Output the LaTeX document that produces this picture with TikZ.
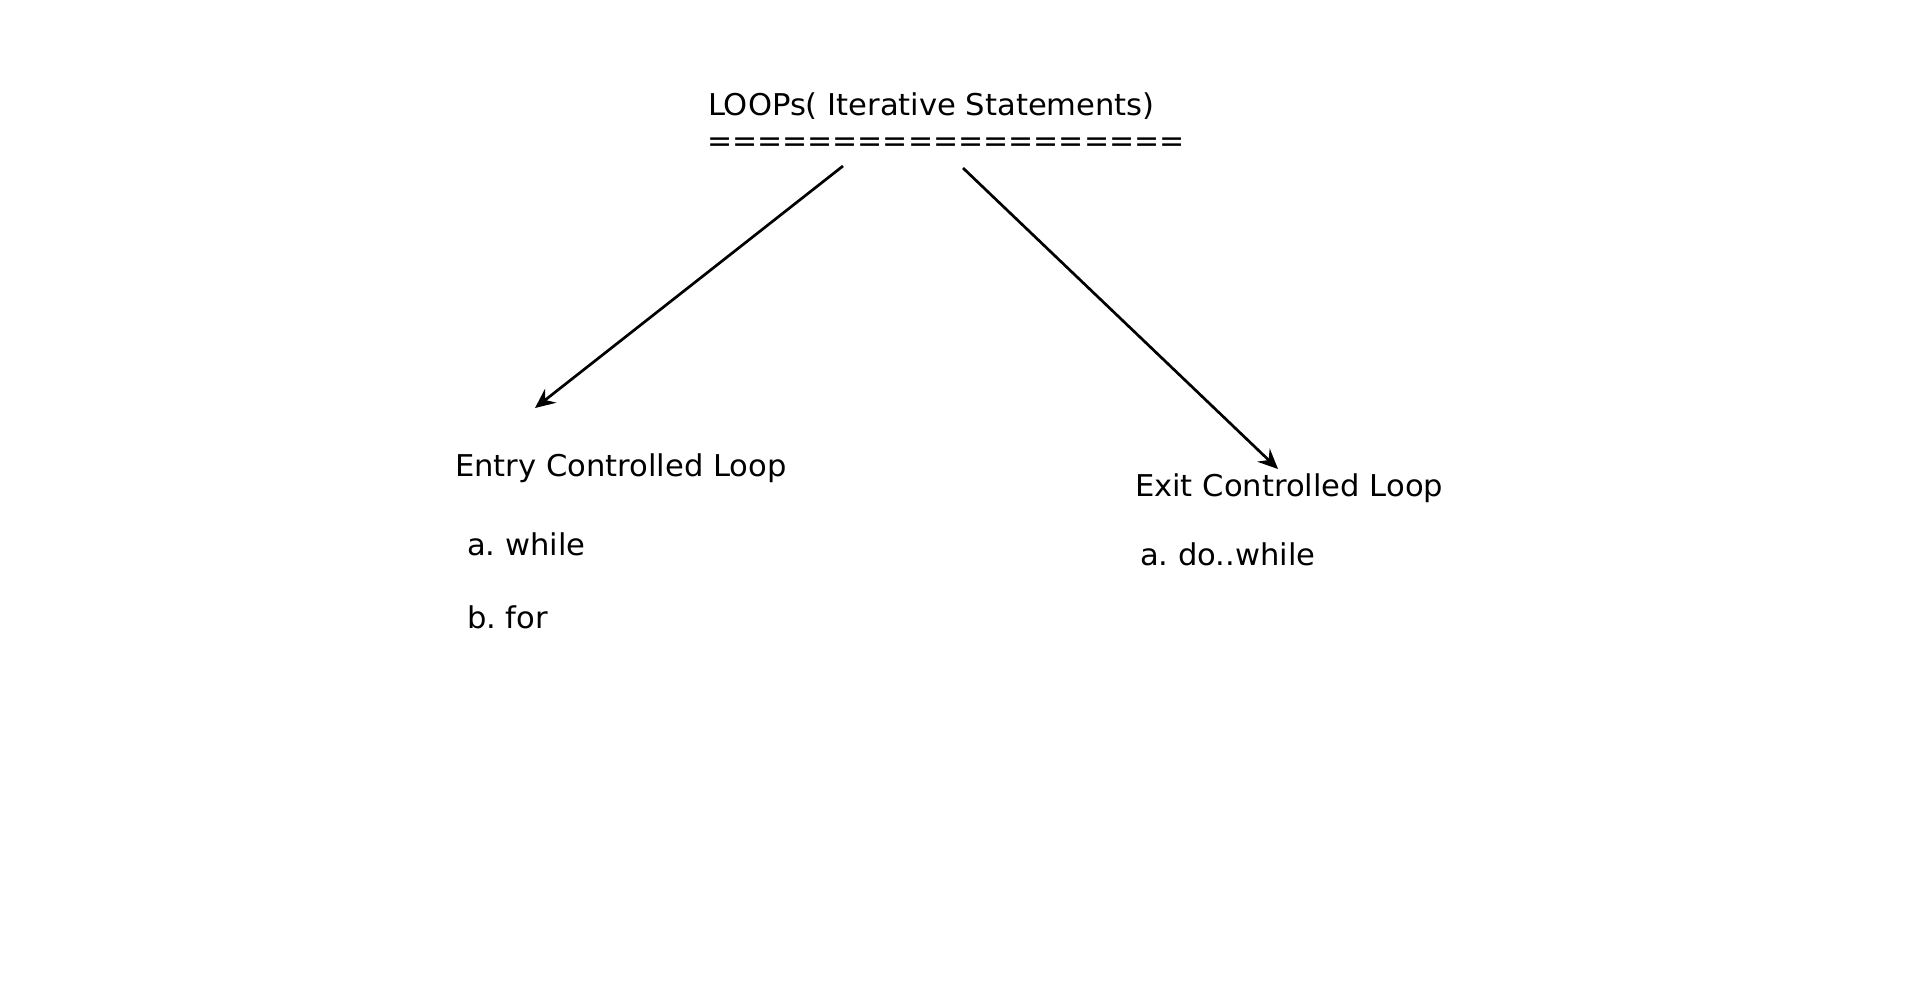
\documentclass[tikz,border=0pt]{standalone}
\usepackage{fontspec}
\setmainfont{DejaVu Sans}
\newfontfamily\widefont[FakeStretch=1.02]{DejaVu Sans}
\usetikzlibrary{arrows.meta}
\frenchspacing
\begin{document}
\begin{tikzpicture}[x=0.5pt,y=-0.5pt,
  lbl/.style={anchor=base west,inner sep=0pt,outer sep=0pt,font=\widefont\fontsize{15}{18}\selectfont\frenchspacing,text=black},
  rulelbl/.style={anchor=base west,inner sep=0pt,outer sep=0pt,font=\fontsize{15}{18}\selectfont,text=black},
  conn/.style={line width=1.35pt,draw=black,-{Stealth[length=10pt,width=9pt,inset=3.5pt]}}]
\useasboundingbox[fill=white] (0,0) rectangle (1920,1001);
\node[lbl] (title) at (708,115) {LOOPs( Iterative Statements)};
\node[rulelbl] (rule) at (707,151) {===================};
\node[lbl] (entry) at (455,476) {Entry Controlled Loop};
\node[lbl] (ewhile) at (467,555) {a. while};
\node[lbl] (efor) at (467,628) {b. for};
\node[lbl] (exit) at (1135,496) {Exit Controlled Loop};
\node[lbl] (xdo) at (1140,565) {a. do..while};
\coordinate (ls) at (843,166);
\coordinate (le) at (535,408);
\coordinate (rs) at (963,168);
\coordinate (re) at (1278,469);
\draw[conn] (ls) -- (le);
\draw[conn] (rs) -- (re);
\end{tikzpicture}
\end{document}
